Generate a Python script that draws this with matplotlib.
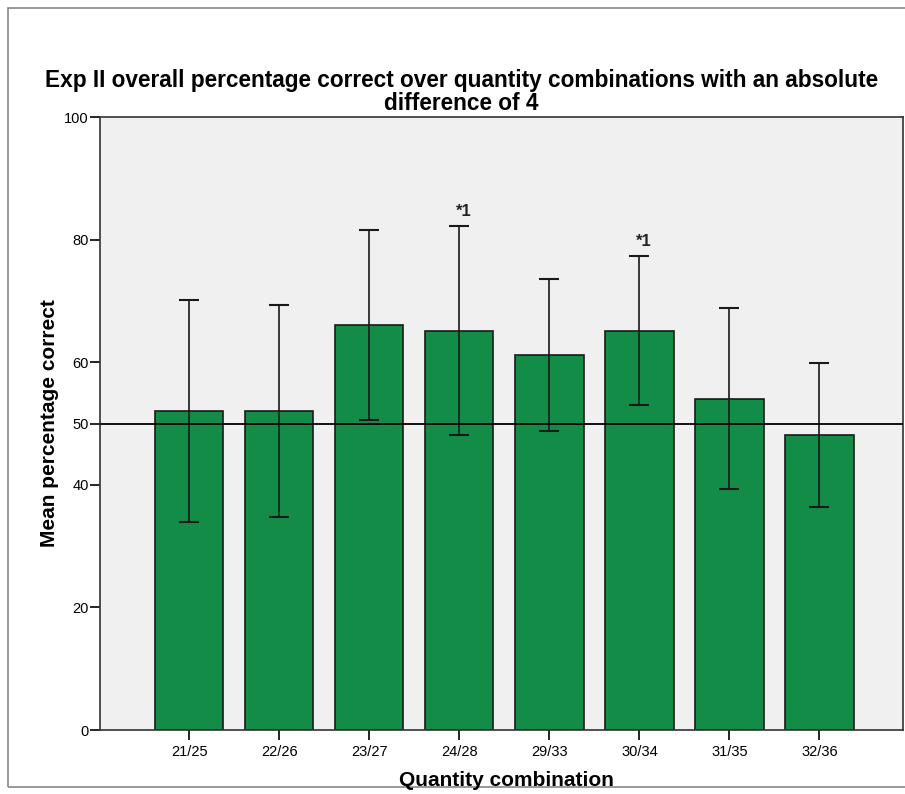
import numpy as np
import matplotlib.pyplot as plt
from matplotlib.patches import Rectangle

plt.rcParams['font.family'] = ['Liberation Sans', 'DejaVu Sans']

# data
combos = ['21/25', '22/26', '23/27', '24/28', '29/33', '30/34', '31/35', '32/36']
means = [52.1, 52.1, 66.1, 65.1, 61.2, 65.1, 54.0, 48.1]
ci_high = [70.1, 69.4, 81.6, 82.2, 73.5, 77.3, 68.8, 59.8]
ci_low = [34.0, 34.7, 50.6, 48.1, 48.8, 53.0, 39.3, 36.4]
marks = {3: '*1', 5: '*1'}

x = np.arange(len(combos))
means = np.array(means)
yerr = [means - np.array(ci_low), np.array(ci_high) - means]

fig = plt.figure(figsize=(9.05, 7.94), dpi=100)
ax = fig.add_axes([0.1105, 0.0806, 0.8875, 0.772])
ax.set_facecolor('#f0f0f0')

ax.bar(x, means, width=0.76, color='#138c47', edgecolor='#1a1a1a', linewidth=1.2, zorder=2)
ax.errorbar(x, means, yerr=yerr, fmt='none', ecolor='#1a1a1a', elinewidth=1.2,
            capsize=7, capthick=1.5, zorder=3)
ax.axhline(50, color='black', linewidth=1.3, zorder=4)

for i, s in marks.items():
    ax.text(x[i] + 0.05, ci_high[i] + 1.2, s, ha='center', va='bottom',
            fontsize=12, fontweight='bold', color='#222222')

ax.set_xlim(-0.99, 7.93)
ax.set_ylim(0, 100)
ax.set_yticks([0, 20, 40, 50, 60, 80, 100])
ax.set_xticks(x)
ax.set_xticklabels(combos)
ax.tick_params(axis='both', direction='out', length=7, width=1.2, labelsize=10.5, colors='black')
ax.tick_params(axis='y', pad=1)
for sp in ax.spines.values():
    sp.set_color('#333333')
    sp.set_linewidth(1.2)

ax.set_ylabel('Mean percentage correct', fontsize=15, fontweight='bold', labelpad=4)
fig.text(506 / 905, 1 - 786 / 794, 'Quantity combination', ha='center', va='baseline',
         fontsize=15, fontweight='bold')
fig.text(0.51, 1 - 87 / 794, 'Exp II overall percentage correct over quantity combinations with an absolute',
         ha='center', va='baseline', fontsize=16.3, fontweight='bold')
fig.text(0.51, 1 - 110 / 794, 'difference of 4',
         ha='center', va='baseline', fontsize=16.3, fontweight='bold')

fig.patches.append(Rectangle((0.009, 0.009), 1.2, 0.981, transform=fig.transFigure,
                             fill=False, edgecolor='#888888', linewidth=1.2))

fig.savefig('out.png', dpi=100)
